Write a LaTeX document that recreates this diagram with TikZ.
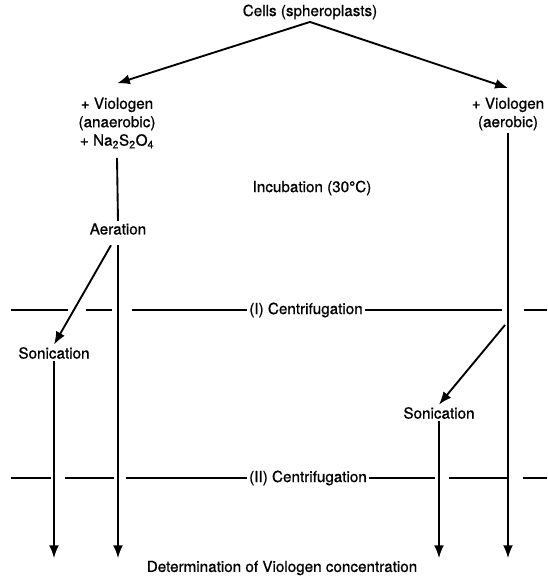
\documentclass[tikz,border=0pt]{standalone}
\usepackage{fontspec}
\setmainfont[FakeBold=0.8]{TeX Gyre Heros}
\usetikzlibrary{arrows.meta,calc}

\begin{document}
\begin{tikzpicture}[x=0.03cm, y=-0.03cm, >={Latex[length=11pt,width=8.5pt]},
    every node/.style={font=\fontsize{13}{15.7}\selectfont, align=center, inner sep=2pt},
    flow/.style={->, line width=1.6pt}, sepline/.style={line width=1.4pt}]
    \useasboundingbox (0,0) rectangle (547,577);

    \node (cells) at (310,12) {Cells (spheroplasts)};
    \node (lviol) at (117,123) {+ Viologen\\(anaerobic)\\+ Na\textsubscript{2}S\textsubscript{2}O\textsubscript{4}};
    \node (rviol) at (508,114) {+ Viologen\\(aerobic)};
    \node (incub) at (312,188) {Incubation (30°C)};
    \node (aer) at (118,229) {Aeration};
    \node (lson) at (54,353) {Sonication};
    \node (rson) at (439,413) {Sonication};
    \node (cenI) at (306,310) {(I) Centrifugation};
    \node (cenII) at (308,478) {(II) Centrifugation};
    \node (det) at (282,568) {Determination of Viologen concentration};
    \coordinate (rsplit) at (505,325);

    \draw [flow] (cells.south) -- ([yshift=10pt]lviol.north);
    \draw [flow] (cells.south) -- ([yshift=6pt]rviol.north);
    \draw [line width=1.6pt] ([yshift=-6pt]lviol.south) -- (aer.north);
    \draw [flow] ($(aer.south)+(0,8)$) -- (aer.south |- det.north);
    \draw [flow] ($(aer.south)+(-7,8)$) -- (lson.north);
    \draw [flow] (lson.south) -- (lson.south |- det.north);
    \draw [flow] (rviol.south) -- (rviol.south |- det.north);
    \draw [flow] (rsplit) -- (rson.north);
    \draw [flow] (rson.south) -- (rson.south |- det.north);

    % centrifugation steps
    \draw [sepline] (11,310) -- (68,310) (86,310) -- (112,310) (132,310) -- (cenI.west)
        (cenI.east) -- (502,310) (524,310) -- (547,310);
    \draw [sepline] (11,478) -- (51,478) (65,478) -- (114,478) (126,478) -- (cenII.west)
        (cenII.east) -- (435,478) (449,478) -- (507,478) (523,478) -- (547,478);
\end{tikzpicture}
\end{document}
